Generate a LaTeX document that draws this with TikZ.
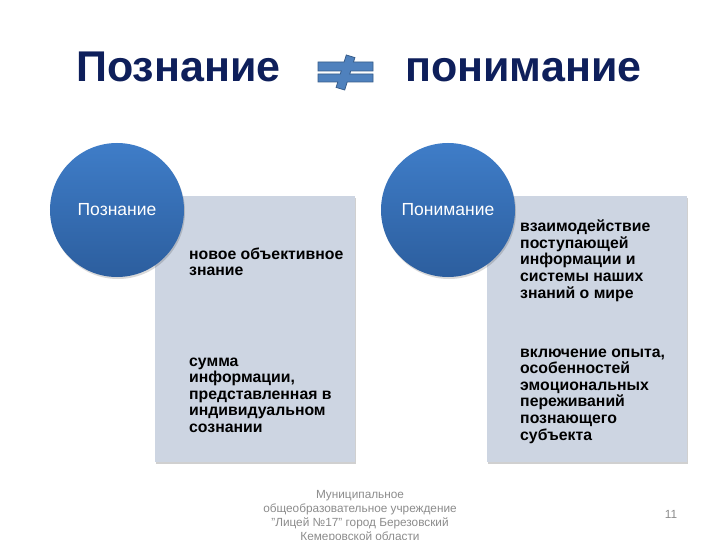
\documentclass[tikz,border=0pt]{standalone}
\usepackage{fontspec}
\setmainfont{Liberation Sans}
\usetikzlibrary{shadows}
\definecolor{titleblue}{HTML}{0E1F5B}
\definecolor{circtop}{HTML}{3F7DC8}
\definecolor{circbot}{HTML}{2C5E9E}
\definecolor{boxfill}{HTML}{CDD5E2}
\definecolor{neqfill}{HTML}{4F81BD}
\definecolor{neqline}{HTML}{385D8A}
\definecolor{footgray}{HTML}{8C8C8C}
\tikzset{
  titletext/.style={inner sep=0, anchor=base west, text=titleblue, font=\fontsize{43bp}{50bp}\selectfont\bfseries},
  infobox/.style={fill=boxfill, draw=none, minimum width=200bp, minimum height=266bp, inner sep=0, anchor=north west,
    drop shadow={shadow xshift=0.5bp, shadow yshift=-2bp, opacity=0.3, fill=black!60}},
  ball/.style={circle, minimum size=134bp, inner sep=0, top color=circtop, bottom color=circbot, text=white,
    font=\fontsize{17.5bp}{20bp}\selectfont,
    drop shadow={shadow xshift=1bp, shadow yshift=-2bp, opacity=0.15, fill=black}},
  bodytext/.style={inner sep=0, anchor=base west, align=left, font=\fontsize{15.8bp}{16.6bp}\selectfont\bfseries, text=black},
  foottext/.style={inner sep=0, text=footgray, font=\fontsize{11.8bp}{14bp}\selectfont}
}
\begin{document}
\begin{tikzpicture}[x=1bp, y=-1bp]
\useasboundingbox (0,0) rectangle (720,540);
\fill[white] (0,0) rectangle (720,540);

% title
\node[titletext] (t1) at (76,82) {Познание};
\node[titletext] (t2) at (405,82) {понимание};

% not-equal sign
\filldraw[fill=neqfill, draw=neqline, line width=0.8bp, line join=miter]
  (318,62) -- (344.1,62) -- (346.3,55.0) -- (354.9,57.6) -- (353.5,62) -- (373,62) -- (373,71)
  -- (350.7,71) -- (349.7,74) -- (373,74) -- (373,82) -- (347.2,82) -- (344.7,90.0) -- (336.1,87.4)
  -- (337.8,82) -- (318,82) -- (318,74) -- (340.3,74) -- (341.3,71) -- (318,71) -- cycle;

% boxes
\node[infobox] (lbox) at (155,196) {};
\node[infobox] (rbox) at (487,196) {};

% circles
\node[ball] (lcirc) at (117,210) {Познание};
\node[ball] (rcirc) at (448,210) {Понимание};

% left texts (anchor = baseline of last line)
\node[bodytext] (l1) at (189,276) {новое объективное\\знание};
\node[bodytext] (l2) at (189,432.5) {сумма\\информации,\\представленная в\\индивидуальном\\сознании};

% right texts
\node[bodytext] (r1) at (520,298) {взаимодействие\\поступающей\\информации и\\системы наших\\знаний о мире};
\node[bodytext] (r2) at (520,440) {включение опыта,\\особенностей\\эмоциональных\\переживаний\\познающего\\субъекта};

% footer
\node[foottext, align=center, anchor=base] (foot) at (360,540) {Муниципальное\\общеобразовательное учреждение\\"Лицей №17" город Березовский\\Кемеровской области};
\node[foottext, anchor=base] (pg) at (671,518.5) {11};
\end{tikzpicture}
\end{document}
